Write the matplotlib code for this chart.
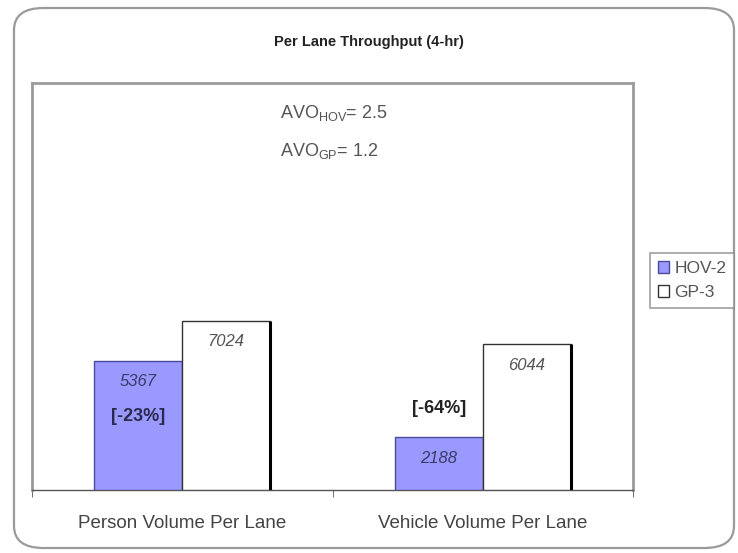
import matplotlib
matplotlib.use("Agg")
import matplotlib.pyplot as plt
from matplotlib.patches import FancyBboxPatch
import numpy as np

plt.rcParams['font.family'] = ['Liberation Sans', 'DejaVu Sans']

categories = ["Person Volume Per Lane", "Vehicle Volume Per Lane"]
series_names = ["HOV-2", "GP-3"]
hov_values = [5367, 2188]
gp_values = [7024, 6044]
pct_labels = ["[-23%]", "[-64%]"]
avo_hov = 2.5
avo_gp = 1.2
title = "Per Lane Throughput (4-hr)"

fig = plt.figure(figsize=(7.38, 5.53), dpi=100)

# outer rounded border
border = FancyBboxPatch((14/738, 1-548/553), (734-14)/738, (548-8)/553,
                        boxstyle="round,pad=0,rounding_size=0.04",
                        transform=fig.transFigure, fill=False,
                        edgecolor="#9a9a9a", linewidth=1.6)
fig.patches.append(border)

ax = fig.add_axes([32/738, 1-490/553, 601/738, (490-83)/553])
x = np.arange(len(categories))
w = 0.293
b1 = ax.bar(x - w/2, hov_values, width=w, color="#9999FF", edgecolor="#4a4a99", linewidth=1.0, zorder=3)
b2 = ax.bar(x + w/2, gp_values, width=w, color="white", edgecolor="#333333", linewidth=1.0, zorder=3)
# shadow-like right edge on GP bars
for r in b2:
    xr = r.get_x() + r.get_width()
    ax.plot([xr, xr], [0, r.get_height()], color="black", linewidth=2.2, zorder=4, solid_capstyle='butt')

ax.set_xlim(-0.5, 1.5)
ax.set_ylim(0, 16900)
ax.set_yticks([])
ax.set_xticks(x)
ax.set_xticklabels(categories, fontsize=13.5, color="#444444")
ax.tick_params(axis='x', which='major', length=0, pad=18)
ax.set_xticks([-0.5, 0.5, 1.5], minor=True)
ax.tick_params(axis='x', which='minor', length=5, direction='out', color="#555555")

for s in ['top', 'right', 'left']:
    ax.spines[s].set_color("#9a9a9a")
    ax.spines[s].set_linewidth(2.0)
ax.spines['bottom'].set_color("#555555")
ax.spines['bottom'].set_linewidth(1.0)

# value labels
for r, v in zip(b1, hov_values):
    cx = r.get_x() + r.get_width()/2
    ax.annotate(str(v), (cx, v), xytext=(0, -15), textcoords="offset points",
                ha="center", va="center", fontsize=12, style="italic", color="#3a3a6a", zorder=5)
for r, v in zip(b2, gp_values):
    cx = r.get_x() + r.get_width()/2
    ax.annotate(str(v), (cx, v), xytext=(0, -15), textcoords="offset points",
                ha="center", va="center", fontsize=12, style="italic", color="#555555", zorder=5)

# percentage labels
ax.annotate(pct_labels[0], (b1[0].get_x() + b1[0].get_width()/2, hov_values[0]), xytext=(0, -40),
            textcoords="offset points", ha="center", va="center", fontsize=13,
            fontweight="bold", color="#2a2a50", zorder=5)
ax.annotate(pct_labels[1], (b1[1].get_x() + b1[1].get_width()/2, hov_values[1]), xytext=(0, 21),
            textcoords="offset points", ha="center", va="center", fontsize=13,
            fontweight="bold", color="#222222", zorder=5)

# AVO annotations
fig.text(280/738, 1-113/553, r"AVO$_{\mathregular{HOV}}$= " + f"{avo_hov}", fontsize=13,
         color="#555555", ha="left", va="center")
fig.text(280/738, 1-151/553, r"AVO$_{\mathregular{GP}}$= " + f"{avo_gp}", fontsize=13,
         color="#555555", ha="left", va="center")

fig.text(369/738, 1-42/553, title, fontsize=10.5, fontweight="bold", color="#222222",
         ha="center", va="center")

leg = fig.legend([b1, b2], series_names, loc="upper left",
                 bbox_to_anchor=(650/738, 1-253/553), fontsize=12.5, frameon=True,
                 fancybox=False, edgecolor="#888888", handlelength=0.65, handleheight=0.65,
                 handletextpad=0.3, borderpad=0.45, labelspacing=0.55, borderaxespad=0)
for t in leg.get_texts():
    t.set_color("#555555")
leg.get_frame().set_linewidth(1.2)

fig.savefig("out.png", dpi=100)
